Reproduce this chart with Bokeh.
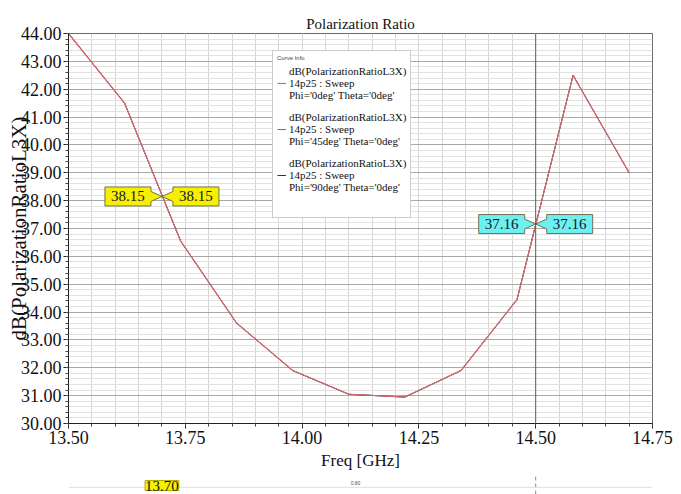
from bokeh.plotting import figure
from bokeh.layouts import column
from bokeh.models import (Range1d, SingleIntervalTicker, NumeralTickFormatter, Span, Label,
                          Legend, LegendItem, ColumnDataSource)
from bokeh.embed import file_html
from bokeh.resources import INLINE

# ---------------- data ----------------
freq = [13.50, 13.62, 13.74, 13.86, 13.98, 14.10, 14.22, 14.34, 14.46, 14.58, 14.70]
ratio_phi0 = [44.00, 41.50, 36.55, 33.60, 31.90, 31.05, 30.95, 31.90, 34.45, 42.50, 39.00]
ratio_phi45 = [44.00, 41.50, 36.55, 33.60, 31.90, 31.05, 30.95, 31.90, 34.45, 42.50, 39.00]
ratio_phi90 = [44.00, 41.50, 36.55, 33.60, 31.90, 31.05, 30.95, 31.90, 34.45, 42.50, 39.00]
series_phi = ["0deg", "45deg", "90deg"]
marker_freq = [13.70, 14.50]
marker_val = [38.15, 37.16]
marker_text = ["38.15", "37.16"]
x_label_marker = "13.70"
next_chart_tick = "0.80"

X0, X1, Y0, Y1 = 13.50, 14.75, 30.0, 44.0
FW, FH = 584, 390          # frame size in px
PX = FW / (X1 - X0)        # px per GHz
PY = FH / (Y1 - Y0)        # px per dB

SERIF = "Liberation Serif"

p = figure(width=681, height=476, x_range=Range1d(X0, X1), y_range=Range1d(Y0, Y1),
           output_backend="svg", toolbar_location=None,
           min_border_left=68, min_border_right=29, min_border_top=33, min_border_bottom=53,
           title="Polarization Ratio")
p.background_fill_color = "white"
p.border_fill_color = "white"
p.outline_line_color = "#6a6a6a"

p.title.align = "center"
p.title.vertical_align = "top"
p.title.offset = -5
p.title.text_font = SERIF
p.title.text_font_size = "15px"
p.title.text_font_style = "normal"
p.title.text_color = "#111111"
p.title.standoff = 0

# axes
p.xaxis.ticker = SingleIntervalTicker(interval=0.25, num_minor_ticks=5)
p.yaxis.ticker = SingleIntervalTicker(interval=1, num_minor_ticks=5)
for ax in (p.xaxis, p.yaxis):
    ax.formatter = NumeralTickFormatter(format="0.00")
    ax.major_label_text_font = SERIF
    ax.major_label_text_font_size = "18px"
    ax.major_label_text_color = "#111111"
    ax.axis_line_color = "#222222"
    ax.major_tick_line_color = "#222222"
    ax.minor_tick_line_color = "#444444"
    ax.major_tick_out = 5
    ax.major_tick_in = 0
    ax.minor_tick_out = 3
    ax.minor_tick_in = 0
    ax.major_label_standoff = 2
    ax.axis_label_text_font = SERIF
    ax.axis_label_text_font_style = "normal"
    ax.axis_label_text_color = "#111111"
p.xaxis.axis_label = "Freq [GHz]"
p.xaxis.axis_label_text_font_size = "17px"
p.xaxis.axis_label_standoff = 4
p.yaxis.axis_label = "dB(PolarizationRatioL3X)"
p.yaxis.axis_label_text_font_size = "21px"
p.yaxis.axis_label_standoff = -13

# grid
p.xgrid.grid_line_color = "#d6d6d6"
p.xgrid.minor_grid_line_color = "#d6d6d6"
p.ygrid.grid_line_color = "#a8a8a8"
p.ygrid.minor_grid_line_color = "#e2e2e2"

# marker line at 14.50
p.add_layout(Span(location=marker_freq[1], dimension="height", line_color="#606060", line_width=1))

# curves
src = ColumnDataSource(dict(f=freq, a=ratio_phi0, b=ratio_phi45, c=ratio_phi90))
r90 = p.line("f", "c", source=src, line_color="#2a2a80", line_width=1)
r45 = p.line("f", "b", source=src, line_color="#707070", line_width=1)
r0 = p.line("f", "a", source=src, line_color="#d86868", line_width=1.2)
r_blank = p.line(x=[], y=[], line_alpha=0)

# callouts
fills = ["#f7ef00", "#6ef0f0"]
for f, v, t, fc in zip(marker_freq, marker_val, marker_text, fills):
    dx = lambda px: px / PX
    dy = lambda px: px / PY
    for side in (-1, 1):
        xs = [f, f + side * dx(11), f + side * dx(11), f + side * dx(57), f + side * dx(57),
              f + side * dx(11), f + side * dx(11)]
        ys = [v, v - dy(5), v - dy(9.5), v - dy(9.5), v + dy(9.5), v + dy(9.5), v + dy(5)]
        p.patch(xs, ys, fill_color=fc, line_color="#707050", line_width=1)
        p.add_layout(Label(x=f, y=v, x_offset=side * 34, text=t, text_align="center",
                           text_baseline="middle", text_font=SERIF,
                           text_font_size="15px", text_color="#15152a"))

# legend
lbl = "dB(PolarizationRatioL3X)\n14p25 : Sweep\nPhi='{}' Theta='0deg'"
items = [LegendItem(label=lbl.format(series_phi[0]), renderers=[r0]),
         LegendItem(label=lbl.format(series_phi[1]), renderers=[r45]),
         LegendItem(label=lbl.format(series_phi[2]), renderers=[r90]),
         LegendItem(label=" ", renderers=[r_blank])]
leg = Legend(items=items, location=(204, 205), title="Curve Info",
             title_text_font_size="6px", title_text_font_style="normal", title_text_color="#444444",
             title_standoff=4,
             label_text_font=SERIF, label_text_font_size="11px", label_text_color="#111111",
             glyph_width=9, glyph_height=10, label_standoff=3, spacing=10, padding=4, margin=0,
             border_line_color="#9a9a9a", border_line_width=1.5, background_fill_color="white",
             background_fill_alpha=1.0)
p.add_layout(leg)

# top strip of the next chart (cut off in the reference)
p2 = figure(width=681, height=18, x_range=p.x_range, y_range=Range1d(0, 1),
            output_backend="svg", toolbar_location=None,
            x_axis_location=None, y_axis_location=None,
            min_border_left=68, min_border_right=29, min_border_top=0, min_border_bottom=0)
p2.grid.visible = False
p2.outline_line_color = None
p2.background_fill_color = "white"
p2.border_fill_color = "white"
p2.add_layout(Span(location=marker_freq[1], dimension="height", line_color="#8a8a8a",
                   line_width=1, line_dash="4 3"))
p2.add_layout(Span(location=0.4, dimension="width", line_color="#d4e0ea", line_width=1))
p2.add_layout(Label(x=marker_freq[0], y=0.5, text=x_label_marker, text_align="center",
                    text_baseline="middle", text_font=SERIF, text_font_size="15px",
                    text_color="#111111", background_fill_color="#f7ef00",
                    border_line_color="#b0b000"))
p2.add_layout(Label(x=287, y=12, x_units="screen", y_units="screen", text=next_chart_tick,
                    text_align="center", text_baseline="middle", text_font="Liberation Sans",
                    text_font_size="5px", text_color="#555555"))

layout = column(p, p2, spacing=0)
open("out.html", "w").write(file_html(layout, INLINE))
